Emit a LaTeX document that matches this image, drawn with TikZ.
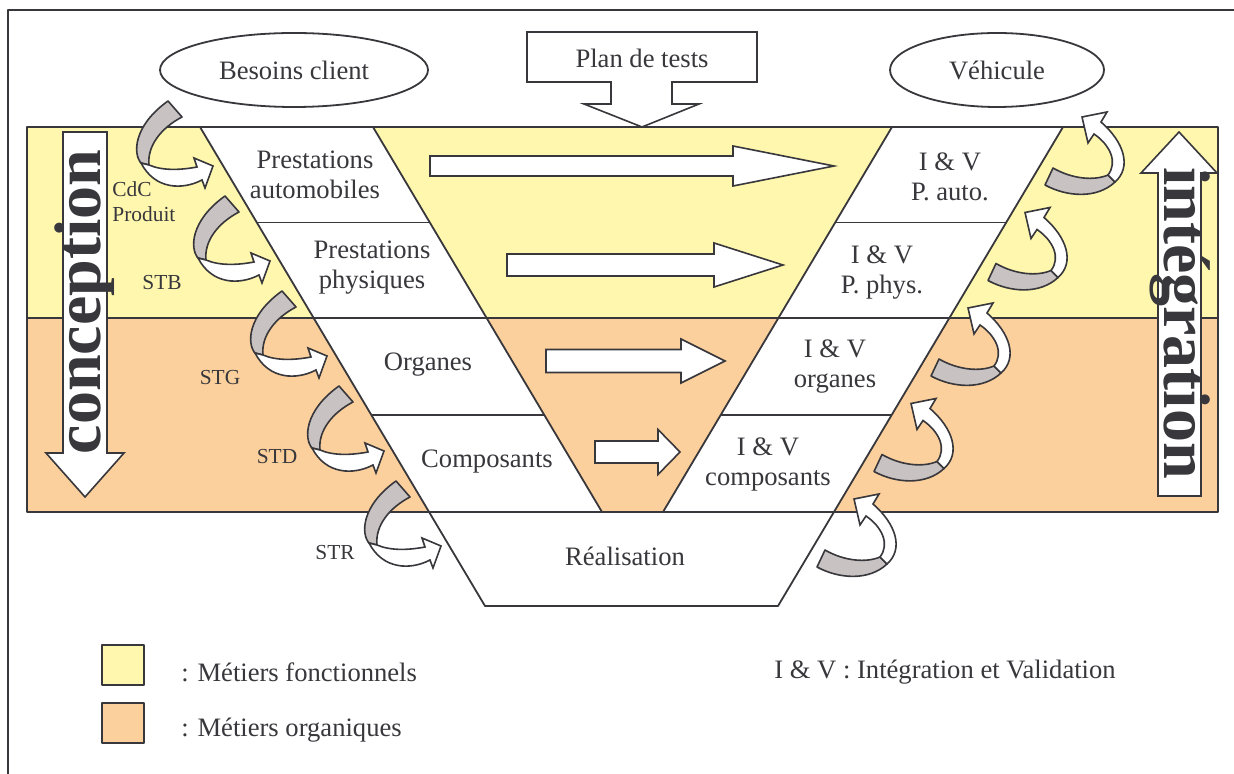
\documentclass[tikz,border=0pt]{standalone}
\usepackage{fontspec}
\setmainfont{Liberation Serif}
\usetikzlibrary{positioning,shapes}
\definecolor{fonct}{RGB}{255,247,174}
\definecolor{organ}{RGB}{252,208,156}
\definecolor{ribbon}{RGB}{200,194,194}
\definecolor{ink}{RGB}{55,55,60}
\tikzstyle{band} = [draw=ink, line width=0.9pt]
\tikzstyle{cell} = [text=ink, align=center, inner sep=1pt, font=\fontsize{13.3}{15}\selectfont]
\tikzstyle{tag} = [text=ink, align=left, inner sep=1pt, font=\fontsize{10.7}{12.5}\selectfont]
\tikzstyle{bigword} = [text=ink, inner sep=0pt, font=\fontsize{33}{33}\selectfont\bfseries]
\tikzstyle{blockarrow} = [draw=ink, fill=white, line width=0.8pt, line join=miter]
\tikzstyle{ribbonback} = [draw=ink, fill=ribbon, line width=0.8pt]
\tikzstyle{swatch} = [draw=ink, line width=0.9pt, minimum width=21pt, minimum height=20pt, inner sep=0pt]
\pgfdeclarelayer{background}
\pgfsetlayers{background,main}
% curled arrow going down then right, tip at #1,#2
\newcommand{\downcurl}[2]{%
  \begin{scope}[shift={(#1,#2)}]
    \path[ribbonback] (-45,-65) -- (-31,-49) .. controls (-52,-38) and (-66,-20) .. (-64,-1)
      -- (-72,-3) .. controls (-80,-12) and (-80,-40) .. (-45,-65) -- cycle;
    \path[blockarrow] (-64,-1) .. controls (-50,5) and (-32,4) .. (-16,1) -- (-19,-8) -- (0,0)
      -- (-8,22) -- (-11,14) .. controls (-30,24) and (-58,24) .. (-72,-3) -- cycle;
  \end{scope}}
% curled arrow going right then up, tip at #1,#2
\newcommand{\upcurl}[2]{%
  \begin{scope}[shift={(#1,#2)}]
    \path[ribbonback] (-29,51) -- (-37,68) .. controls (-15,80) and (15,82) .. (33,65)
      -- (26,58) .. controls (12,64) and (-10,62) .. (-29,51) -- cycle;
    \path[blockarrow] (0,0) -- (25,-5) -- (19,5) .. controls (42,25) and (50,50) .. (33,65)
      -- (26,58) .. controls (36,45) and (28,28) .. (12,17) -- (6,26) -- cycle;
  \end{scope}}
\begin{document}
\begin{tikzpicture}[x=0.5pt, y=-0.5pt, line join=round]
    \useasboundingbox (0,0) rectangle (1234,774);

    % Frame
    \draw[band] (8,774) -- (8,10) -- (1234,10);

    % Coloured bands and the V
    \begin{pgfonlayer}{background}
      \path[fill=fonct] (27,127) rectangle (1218,318);
      \path[fill=organ] (27,318) rectangle (1218,512);
      \path[fill=white] (200,127) -- (1063,127) -- (778,606) -- (485,606) -- cycle;
      \path[fill=fonct] (373,127) -- (892,127) -- (778.4,318) -- (486.6,318) -- cycle;
      \path[fill=organ] (486.6,318) -- (778.4,318) -- (663,512) -- (602,512) -- cycle;
    \end{pgfonlayer}
    \draw[band] (27,127) rectangle (1218,512);
    \draw[band] (27,318) -- (1218,318);
    \draw[band] (200,127) -- (485,606) -- (778,606) -- (1063,127);
    \draw[band] (373,127) -- (602,512);
    \draw[band] (892,127) -- (663,512);
    \draw[band] (256.8,222.5) -- (429.8,222.5) (835.2,222.5) -- (1006.2,222.5);
    \draw[band] (371.4,415) -- (544.4,415) (720.6,415) -- (891.6,415);

    % Place nodes
    \node [cell, draw=ink, line width=0.9pt, ellipse, fill=white, minimum width=134pt, minimum height=37pt] (besoins) at (294,70) {Besoins client};
    \node [cell, draw=ink, line width=0.9pt, ellipse, fill=white, minimum width=107pt, minimum height=37pt] (vehicule) at (997,70) {Véhicule};
    \path[blockarrow] (527,32) -- (757,32) -- (757,82) -- (672,82) -- (672,104) -- (699,104) -- (642,127)
      -- (584,104) -- (611,104) -- (611,82) -- (527,82) -- cycle;
    \node [cell] (plan) at (642,58) {Plan de tests};

    \node [cell] (presta-auto) at (315,175) {Prestations\\automobiles};
    \node [cell] (presta-phys) at (372,268) {Prestations\\physiques};
    \node [cell] (organes) at (428,365) {Organes};
    \node [cell] (composants) at (487,462) {Composants};
    \node [cell] (realisation) at (625,556) {Réalisation};
    \node [cell] (iv-auto) at (950,177) {I \& V\\P. auto.};
    \node [cell] (iv-phys) at (882,273) {I \& V\\P. phys.};
    \node [cell] (iv-organes) at (835,367) {I \& V\\organes};
    \node [cell] (iv-composants) at (768,464) {I \& V\\composants};

    \node [tag, anchor=west] (cdc) at (110,202) {CdC\\Produit};
    \node [tag] (stb) at (162,283) {STB};
    \node [tag] (stg) at (220,378) {STG};
    \node [tag] (std) at (277,457) {STD};
    \node [tag] (str) at (335,553) {STR};

    % Big arrows
    \path[blockarrow] (63,132) -- (107,132) -- (107,453) -- (124,453) -- (85,497) -- (46,453) -- (63,453) -- cycle;
    \node [bigword, rotate=90] (conception) at (85,302) {conception};
    \path[blockarrow] (1158,496) -- (1158,173) -- (1141,173) -- (1179,132) -- (1217,173) -- (1201,173) -- (1201,496) -- cycle;
    \node [bigword, rotate=-90] (integration) at (1180,323) {intégration};

    % Arrows across the V
    \foreach \xa/\xb/\xc/\yc/\hs/\hh in {430/733/834/166/10/20, 507/714/783/265/11/22, 546/681/725/361/11.5/22, 595/658/680/452/11/22.5}
      \path[blockarrow] (\xa,\yc-\hs) -- (\xb,\yc-\hs) -- (\xb,\yc-\hh) -- (\xc,\yc) -- (\xb,\yc+\hh) -- (\xb,\yc+\hs) -- (\xa,\yc+\hs) -- cycle;

    % Curled arrows
    \foreach \k in {0,...,4} {
      \downcurl{213+57*\k}{166+95*\k}
      \upcurl{1082-57*\k}{117+95.5*\k}
    }

    % Legend
    \node [swatch, fill=fonct] (sw-fonct) at (123,665) {};
    \node [swatch, fill=organ] (sw-organ) at (123,723) {};
    \node [cell, right=17pt of sw-fonct, yshift=-3.5pt] (lg-fonct) {: Métiers fonctionnels};
    \node [cell, right=17pt of sw-organ, yshift=-3.5pt] (lg-organ) {: Métiers organiques};
    \node [cell] (lg-iv) at (945,672) {I \& V : Intégration et Validation};
\end{tikzpicture}
\end{document}
